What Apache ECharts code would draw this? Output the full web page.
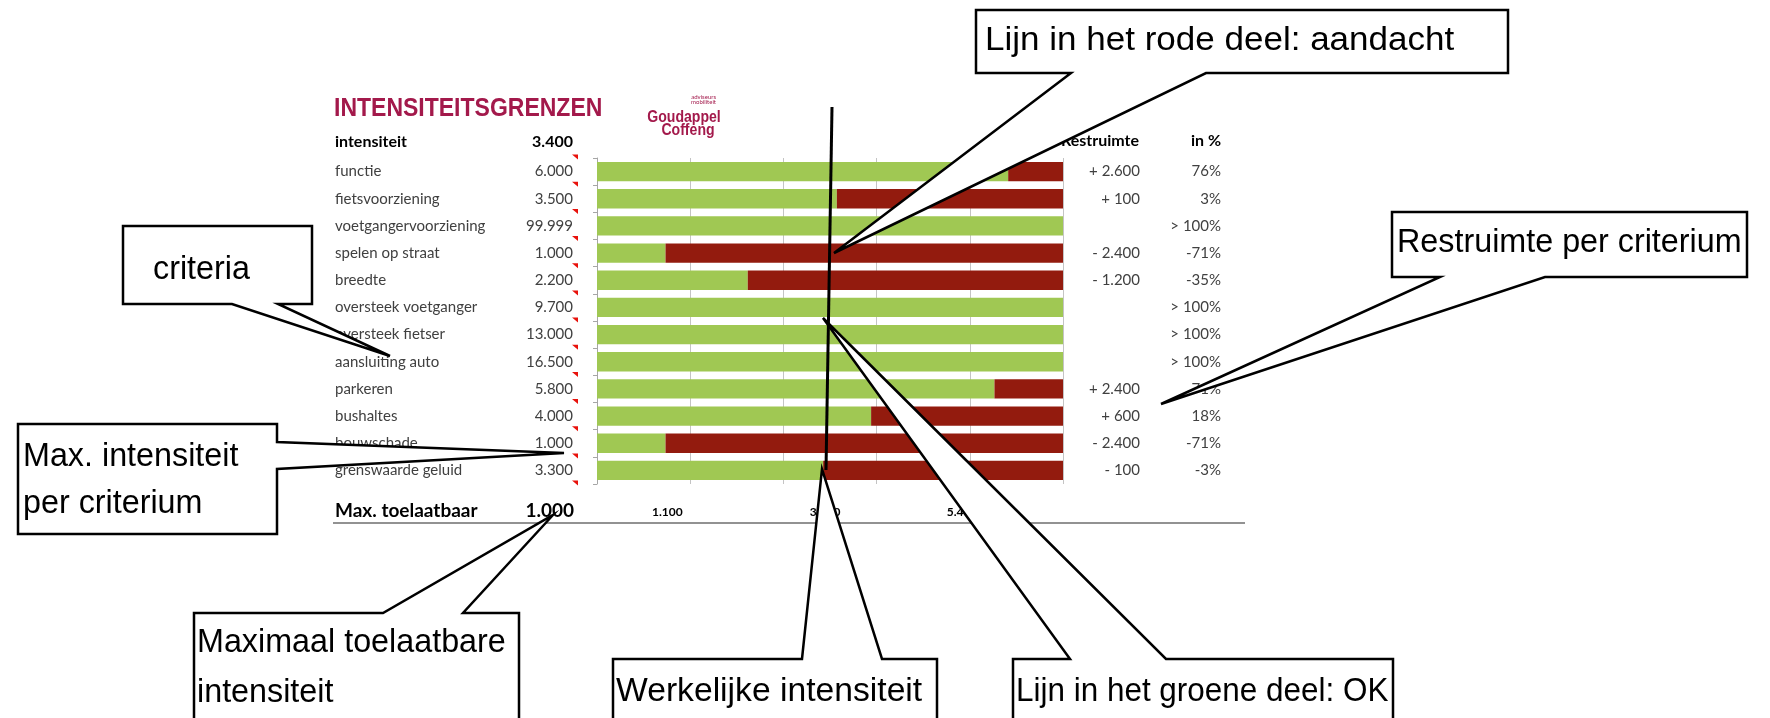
<!DOCTYPE html>
<html>
<head>
<meta charset="utf-8">
<title>Intensiteitsgrenzen</title>
<script src="https://cdn.jsdelivr.net/npm/echarts@6/dist/echarts.min.js"></script>
<style>
    html, body { margin: 0; padding: 0; background: #fff; }
    #main { width: 1770px; height: 718px; }
</style>
</head>
<body>
<div id="main"></div>
<script>
// criteria en hun maximale intensiteit
var criteria = ['functie', 'fietsvoorziening', 'voetgangervoorziening', 'spelen op straat', 'breedte',
    'oversteek voetganger', 'oversteek fietser', 'aansluiting auto', 'parkeren', 'bushaltes',
    'bouwschade', 'grenswaarde geluid'];
var maxIntensity = [6000, 3500, 99999, 1000, 2200, 9700, 13000, 16500, 5800, 4000, 1000, 3300];
var restruimte = ['+ 2.600', '+ 100', '', '- 2.400', '- 1.200', '', '', '', '+ 2.400', '+ 600', '- 2.400', '- 100'];
var restPct = ['76%', '3%', '> 100%', '-71%', '-35%', '> 100%', '> 100%', '> 100%', '71%', '18%', '-71%', '-3%'];
var actualIntensity = 3400;
var maxAllowed = 1000;
var bottomTicks = [1100, 3400, 5400];

var axisMax = 2 * actualIntensity;

var sans = '"Liberation Sans", Arial, sans-serif';
var tableFont = 'Lato, "Open Sans", sans-serif';
var crimson = '#a3194b';

function fmt(v) {
    return String(v).replace(/\B(?=(\d{3})+(?!\d))/g, '.');
}

var chartDom = document.getElementById('main');
var myChart = echarts.init(chartDom);

var green = maxIntensity.map(function (v) { return Math.min(v, axisMax); });
var red = green.map(function (v) { return axisMax - v; });

var option = {
    animation: false,
    grid: { left: 597, top: 158, width: 466, height: 326 },
    xAxis: {
        type: 'value',
        min: 0,
        max: axisMax,
        interval: axisMax / 5,
        axisLabel: { show: false },
        axisLine: { show: false },
        axisTick: { show: false },
        splitLine: { show: true, lineStyle: { color: '#c4c4c4', width: 1 } }
    },
    yAxis: {
        type: 'category',
        data: criteria,
        inverse: true,
        axisLabel: { show: false },
        axisLine: { show: true, lineStyle: { color: '#a6a6a6' } },
        axisTick: { show: true, length: 4, lineStyle: { color: '#a6a6a6' } }
    },
    series: [
        {
            type: 'bar',
            stack: 'i',
            data: green,
            barCategoryGap: '29%',
            itemStyle: { color: '#a0c853' }
        },
        {
            type: 'bar',
            stack: 'i',
            data: red,
            itemStyle: { color: '#931b0e' }
        }
    ]
};

myChart.setOption(option);

function txt(x, y, s, font, color, align, z, sx) {
    return {
        type: 'text', x: x, y: y, z: z || 10, scaleX: sx || 1,
        style: {
            text: s, font: font, fill: color || '#404040',
            align: align || 'left', verticalAlign: 'middle',
            textAlign: align || 'left', textVerticalAlign: 'middle'
        }
    };
}

// witte ballon met punt, tekstregels: [x, y, tekst, horizontale schaal]
function callout(points, lines) {
    var els = [{
        type: 'polygon', z: 100,
        shape: { points: points },
        style: { fill: '#fff', stroke: '#000', lineWidth: 2.5, lineJoin: 'miter' }
    }];
    lines.forEach(function (l) {
        els.push(txt(l[0], l[1], l[2], '34px ' + sans, '#000', 'left', 101, l[3] || 0.95));
    });
    return els;
}

var g = [];

// titel en logo
g.push(txt(334, 109, 'INTENSITEITSGRENZEN', 'bold 25px ' + sans, crimson, 'left', 10, 0.92));
g.push(txt(716, 97, 'adviseurs', '6px ' + tableFont, crimson, 'right'));
g.push(txt(716, 102, 'mobiliteit', '6px ' + tableFont, crimson, 'right'));
g.push(txt(684, 118, 'Goudappel', 'bold 16px ' + sans, crimson, 'center', 10, 0.88));
g.push(txt(688, 131, 'Coffeng', 'bold 16px ' + sans, crimson, 'center', 10, 0.88));

// kopregel
g.push(txt(335, 142, 'intensiteit', 'bold 16px ' + tableFont, '#000'));
g.push(txt(573, 142, fmt(actualIntensity), 'bold 16px ' + tableFont, '#000', 'right'));
g.push(txt(1139, 141, 'Restruimte', 'bold 16px ' + tableFont, '#000', 'right'));
g.push(txt(1221, 141, 'in %', 'bold 16px ' + tableFont, '#000', 'right'));

// tabel per criterium
var rowH = 0;
criteria.forEach(function (c, i) {
    var y = myChart.convertToPixel({ yAxisIndex: 0 }, c);
    if (i === 1) rowH = y - myChart.convertToPixel({ yAxisIndex: 0 }, criteria[0]);
    g.push(txt(335, y, c, '15px ' + tableFont));
    g.push(txt(573, y, fmt(maxIntensity[i]), '15px ' + tableFont, '#404040', 'right'));
    g.push(txt(1140, y, restruimte[i], '15px ' + tableFont, '#404040', 'right'));
    g.push(txt(1221, y, restPct[i], '15px ' + tableFont, '#404040', 'right'));
});
// rode commentaar-driehoekjes
for (var k = 0; k <= criteria.length; k++) {
    var ty = myChart.convertToPixel({ yAxisIndex: 0 }, criteria[0]) - 17 + k * rowH;
    g.push({
        type: 'polygon', z: 11,
        shape: { points: [[572, ty], [578, ty], [578, ty + 5]] },
        style: { fill: '#e8120c' }
    });
}

// onderste regel
g.push(txt(335, 511, 'Max. toelaatbaar', 'bold 19px ' + tableFont, '#000'));
g.push(txt(574, 511, fmt(maxAllowed), 'bold 19px ' + tableFont, '#000', 'right'));
bottomTicks.forEach(function (v) {
    var x = myChart.convertToPixel({ xAxisIndex: 0 }, v);
    g.push(txt(x - 5, 512, fmt(v), 'bold 12px ' + tableFont, '#000', 'center'));
});
g.push({
    type: 'line', z: 10,
    shape: { x1: 333, y1: 523, x2: 1245, y2: 523 },
    style: { stroke: '#6e6e6e', lineWidth: 1.5 }
});

// lijn van de werkelijke intensiteit
var ax = myChart.convertToPixel({ xAxisIndex: 0 }, actualIntensity);
g.push({
    type: 'line', z: 50,
    shape: { x1: ax + 2, y1: 107, x2: ax - 4, y2: 470 },
    style: { stroke: '#000', lineWidth: 3 }
});

// toelichtingen
g = g.concat(callout([[976, 10], [1508, 10], [1508, 73], [1206, 73], [834, 253], [1071, 73], [976, 73]],
    [[985, 41, 'Lijn in het rode deel: aandacht', 1.03]]));
g = g.concat(callout([[123, 226], [312, 226], [312, 304], [278, 304], [390, 356], [232, 304], [123, 304]],
    [[153, 270, 'criteria']]));
g = g.concat(callout([[1392, 212], [1747, 212], [1747, 277], [1545, 277], [1161, 404], [1440, 277], [1392, 277]],
    [[1397, 243, 'Restruimte per criterium']]));
g = g.concat(callout([[18, 424], [277, 424], [277, 442], [564, 453], [277, 469], [277, 534], [18, 534]],
    [[23, 457, 'Max. intensiteit'], [23, 504, 'per criterium']]));
g = g.concat(callout([[194, 613], [383, 613], [553, 515], [463, 613], [519, 613], [519, 724], [194, 724]],
    [[197, 643, 'Maximaal toelaatbare'], [197, 693, 'intensiteit']]));
g = g.concat(callout([[613, 659], [802, 659], [822, 469], [882, 659], [937, 659], [937, 724], [613, 724]],
    [[616, 692, 'Werkelijke intensiteit', 0.99]]));
g = g.concat(callout([[1013, 659], [1070, 659], [823, 318], [1166, 659], [1393, 659], [1393, 724], [1013, 724]],
    [[1016, 692, 'Lijn in het groene deel: OK', 0.925]]));

myChart.setOption({ graphic: g });
</script>
</body>
</html>
